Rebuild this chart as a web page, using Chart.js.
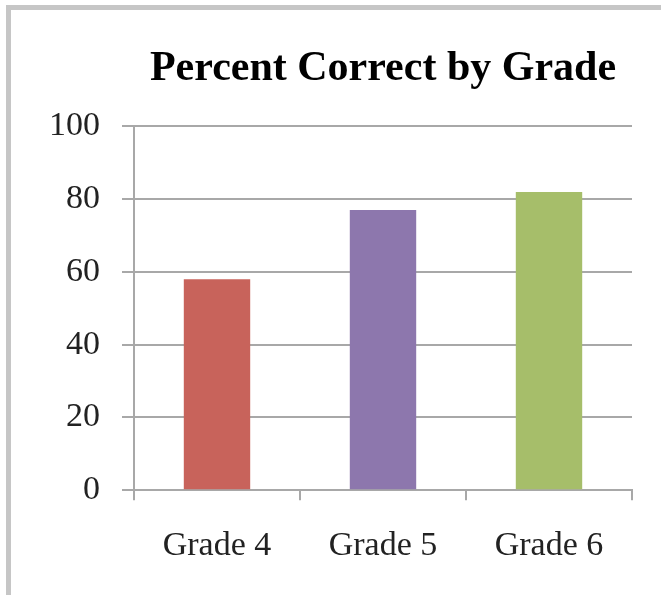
<!DOCTYPE html>
<html lang="en">
<head>
  <meta charset="UTF-8">
  <title>Percent Correct by Grade</title>
  <script src="https://cdn.jsdelivr.net/npm/chart.js"></script>
  <style>
    html, body { margin: 0; padding: 0; background: #fff; }
    #wrap { position: relative; width: 661px; height: 595px; overflow: hidden; }
    #frame {
      position: absolute; left: 6px; top: 5px; right: -10px; bottom: -10px;
      border-top: 5px solid #c6c6c6; border-left: 5px solid #c6c6c6;
      pointer-events: none;
    }
    canvas { position: absolute; left: 0; top: 0; }
  </style>
</head>
<body>
  <div id="wrap">
    <canvas id="gradeChart" width="661" height="595"></canvas>
    <div id="frame"></div>
  </div>

  <script>
    const grades = ['Grade 4', 'Grade 5', 'Grade 6'];
    const percentCorrect = [58, 77, 82];
    const barColors = ['#c8635b', '#8d77ad', '#a6be6a'];
    const yTicks = [0, 20, 40, 60, 80, 100];

    const serif = '"Liberation Serif", "Times New Roman", serif';
    const gridGray = '#a8a8a8';

    new Chart(document.getElementById('gradeChart').getContext('2d'), {
      type: 'bar',
      data: {
        labels: grades,
        datasets: [{
          data: percentCorrect,
          backgroundColor: barColors,
          borderWidth: 0,
          barPercentage: 0.4,
          categoryPercentage: 1.0
        }]
      },
      options: {
        responsive: false,
        animation: false,
        layout: { padding: { left: 20, right: 29, top: 0, bottom: 4 } },
        plugins: {
          legend: { display: false },
          tooltip: { enabled: false },
          title: {
            display: true,
            text: 'Percent Correct by Grade',
            fullSize: false,
            color: '#000',
            font: { family: serif, size: 42, weight: 'bold' },
            padding: { top: 44, bottom: 32 }
          }
        },
        scales: {
          x: {
            grid: {
              offset: true,
              drawOnChartArea: false,
              drawTicks: true,
              tickLength: 10,
              color: gridGray,
              lineWidth: 2
            },
            border: { display: true, color: gridGray, width: 2 },
            ticks: {
              color: '#222',
              padding: 25,
              font: { family: serif, size: 34 }
            }
          },
          y: {
            min: 0,
            max: 100,
            afterFit: (axis) => { axis.width = 114; },
            afterBuildTicks: (axis) => { axis.ticks = yTicks.map(v => ({ value: v })); },
            grid: {
              color: gridGray,
              lineWidth: 2,
              tickLength: 12
            },
            border: { display: true, color: gridGray, width: 2 },
            ticks: {
              color: '#222',
              padding: 22,
              font: { family: serif, size: 34 }
            }
          }
        }
      }
    });
  </script>
</body>
</html>
